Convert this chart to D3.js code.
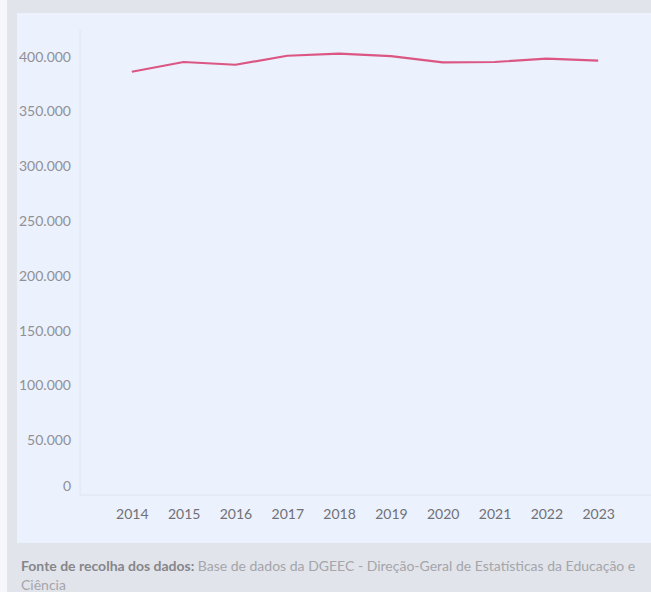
<!DOCTYPE html>
<html lang="pt">
<head>
<meta charset="utf-8">
<script src="https://cdn.jsdelivr.net/npm/d3@7"></script>
<style>
  html, body { margin: 0; padding: 0; background: #f7f7fb; }
  svg { display: block; }
</style>
</head>
<body>
<svg id="chart" width="651" height="592"></svg>
<script>
// Número de alunos por ano letivo
const years = ["2014", "2015", "2016", "2017", "2018", "2019", "2020", "2021", "2022", "2023"];
const values = [386200, 395100, 392600, 400800, 402700, 400500, 394800, 395100, 398100, 396300];
const yTicks = [0, 50000, 100000, 150000, 200000, 250000, 300000, 350000, 400000];
const sourceLabel = "Fonte de recolha dos dados:";
const sourceText = "Base de dados da DGEEC - Direção-Geral de Estatísticas da Educação e Ciência";

const W = 651, H = 592;
const svg = d3.select("#chart");

// Page frame: grey card with a light-blue chart pane
svg.append("rect").attr("x", 7).attr("y", 0).attr("width", W - 7).attr("height", H).attr("fill", "#e1e4ea");
svg.append("rect").attr("x", 17).attr("y", 13).attr("width", W - 17).attr("height", 530).attr("fill", "#ebf1fd");

const plot = { left: 80, right: 650, top: 30, bottom: 495 };

const x = d3.scalePoint().domain(years).range([plot.left, plot.right]).padding(1);
const y = d3.scaleLinear().domain([0, 424300]).range([plot.bottom, plot.top]);

const pt = d3.formatLocale({ decimal: ",", thousands: ".", grouping: [3], currency: ["€", ""] });
const fmt = pt.format(",d");

const font = "Lato, 'Open Sans', sans-serif";

// Axis rules
svg.append("line").attr("x1", plot.left).attr("x2", plot.left)
  .attr("y1", plot.top).attr("y2", plot.bottom)
  .attr("stroke", "#dfe5f0").attr("stroke-width", 1);
svg.append("line").attr("x1", plot.left).attr("x2", W)
  .attr("y1", plot.bottom).attr("y2", plot.bottom)
  .attr("stroke", "#dfe5f0").attr("stroke-width", 1);

// Y axis
const yAxis = svg.append("g")
  .attr("transform", `translate(${plot.left},0)`)
  .call(d3.axisLeft(y).tickValues(yTicks).tickFormat(fmt).tickSize(0).tickPadding(9));
yAxis.select(".domain").remove();
yAxis.selectAll("text")
  .attr("fill", "#909095").attr("font-family", font).attr("font-size", 14)
  .attr("dy", d => d === 0 ? "-0.32em" : "0.32em");

// X axis
const xAxis = svg.append("g")
  .attr("transform", `translate(0,${plot.bottom})`)
  .call(d3.axisBottom(x).tickSize(0).tickPadding(14));
xAxis.select(".domain").remove();
xAxis.selectAll("text")
  .attr("fill", "#707075").attr("font-family", font).attr("font-size", 14);

// Line
const line = d3.line().x((d, i) => x(years[i])).y(d => y(d));
svg.append("path")
  .datum(values)
  .attr("d", line)
  .attr("fill", "none")
  .attr("stroke", "#dc5683")
  .attr("stroke-width", 2.2)
  .attr("stroke-linejoin", "round");

// Source note, wrapped to the card width
const note = svg.append("text")
  .attr("x", 21).attr("y", 571)
  .attr("font-family", font).attr("font-size", 14);
const maxW = 628;
note.append("tspan").attr("x", 21).attr("font-weight", "bold").attr("fill", "#86868b").text(sourceLabel + " ");
let rest = note.append("tspan").attr("fill", "#a5a5aa");
const words = sourceText.split(" ");
let current = [];
let lineNo = 0;
for (const w of words) {
  current.push(w);
  rest.text(current.join(" "));
  const width = lineNo === 0 ? note.node().getBBox().width : rest.node().getComputedTextLength();
  if (width > maxW) {
    current.pop();
    rest.text(current.join(" "));
    current = [w];
    lineNo++;
    rest = note.append("tspan").attr("x", 21).attr("dy", 19).attr("fill", "#a5a5aa").text(w);
  }
}
</script>
</body>
</html>
